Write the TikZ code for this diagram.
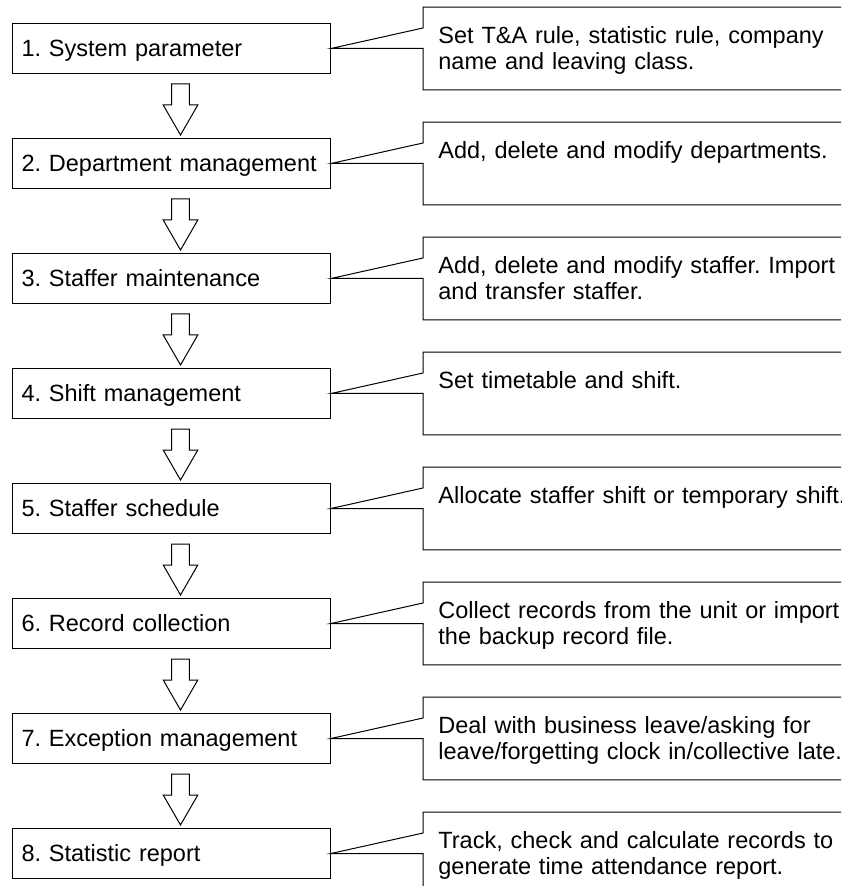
\documentclass[tikz,border=0pt]{standalone}
\usepackage{fontspec}
\setmainfont{Liberation Sans}
\usetikzlibrary{positioning,calc}

\begin{document}
\begin{tikzpicture}[
  node distance=32pt,
  font=\fontsize{11.75pt}{13pt}\selectfont\frenchspacing,
  stage/.style={draw, line width=0.5pt, minimum width=159pt, minimum height=25pt,
    text width=150pt, inner xsep=4.5pt, align=left, text height=11pt, text depth=2.6pt},
  note/.style={inner xsep=7.5pt, inner ysep=9.8pt, text width=220pt, align=left,
    text height=8.4pt, text depth=13pt},
  callout/.style={line width=0.5pt},
  hollow/.style={draw, line width=0.5pt, fill=white}
]
  \useasboundingbox (0,0) rectangle (420.5pt,-443pt);
  \clip (0,0) rectangle (420.5pt,-443pt);

  \node[stage, anchor=west] (s1) at (6pt,-24.25pt) {1. System parameter};
  \node[stage, below=of s1] (s2) {2. Department management};
  \node[stage, below=of s2] (s3) {3. Staffer maintenance};
  \node[stage, below=of s3] (s4) {4. Shift management};
  \node[stage, below=of s4] (s5) {5. Staffer schedule};
  \node[stage, below=of s5] (s6) {6. Record collection};
  \node[stage, below=of s6] (s7) {7. Exception management};
  \node[stage, below=of s7] (s8) {8. Statistic report};

  \node[note, right=46pt of s1] (n1) {Set T\&A rule, statistic rule, company\\name and leaving class.};
  \node[note, right=46pt of s2] (n2) {Add, delete and modify departments.};
  \node[note, right=46pt of s3] (n3) {Add, delete and modify staffer. Import\\and transfer staffer.};
  \node[note, right=46pt of s4] (n4) {Set timetable and shift.};
  \node[note, right=46pt of s5] (n5) {Allocate staffer shift or temporary shift.};
  \node[note, right=46pt of s6] (n6) {Collect records from the unit or import\\the backup record file.};
  \node[note, right=46pt of s7] (n7) {Deal with business leave/asking for\\leave/forgetting clock in/collective late.};
  \node[note, right=46pt of s8] (n8) {Track, check and calculate records to\\generate time attendance report.};

  % callouts
  \foreach \i in {1,...,8}
    \draw[callout] (n\i.west) -- (n\i.south west) -- (n\i.south east) -- (n\i.north east)
      -- (n\i.north west) -- ($(n\i.west)+(0,10.25pt)$) -- (s\i.east) -- cycle;

  % hollow arrows
  \foreach \i [count=\j from 2] in {1,...,7}
    \draw[hollow] ($(s\i.south)+(0.1pt,-5pt)$) -- ++(8.8pt,0) -- ++(0,-10.5pt) -- ++(4.25pt,0)
      -- ($(s\j.north)+(4.5pt,1.5pt)$) -- ($(s\i.south)+(-4.15pt,-15.5pt)$) -- ++(4.25pt,0) -- cycle;
\end{tikzpicture}
\end{document}
